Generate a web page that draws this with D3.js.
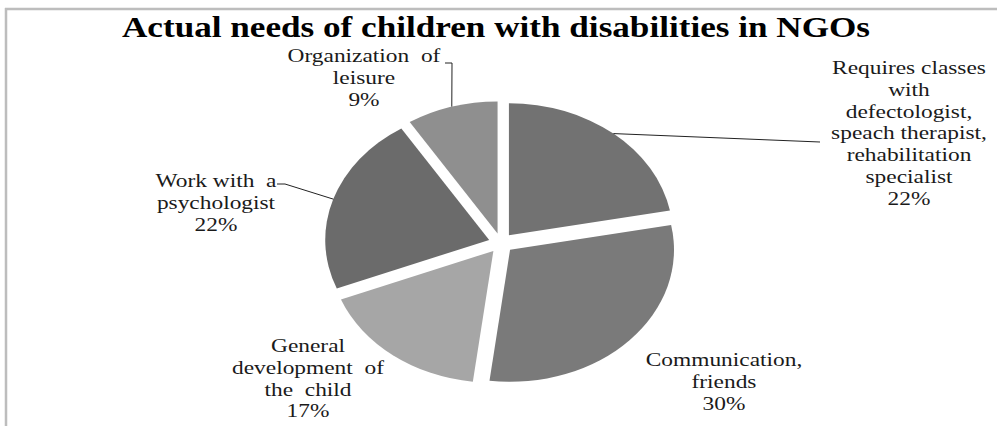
<!DOCTYPE html>
<html>
<head>
<meta charset="utf-8">
<script src="https://cdn.jsdelivr.net/npm/d3@7"></script>
<style>
  body { margin: 0; background: #fff; }
</style>
</head>
<body>
<div id="chart"></div>
<script>
// data
const categories = [
  "Requires classes\nwith\ndefectologist,\nspeach therapist,\nrehabilitation\nspecialist",
  "Communication,\nfriends",
  "General\ndevelopment  of\nthe  child",
  "Work with  a\npsychologist",
  "Organization  of\nleisure"
];
const values = [22, 30, 17, 22, 9];
const colors = ["#727272", "#7a7a7a", "#a6a6a6", "#6b6b6b", "#8f8f8f"];

// label placement (x centre, first baseline) + leader elbow, one per slice
const labelPos = [
  {x: 909, y: 74, elbow: [[820, 142]]},
  {x: 724, y: 366, elbow: null},
  {x: 308, y: 352, elbow: null},
  {x: 216, y: 187, elbow: [[285, 184], [277, 184]]},
  {x: 364, y: 62, elbow: [[452, 63], [445, 63]]}
];

const serif = "'Liberation Serif', 'Tinos', 'Nimbus Roman', 'Nimbus Roman No9 L', 'FreeSerif', 'Noto Serif', 'DejaVu Serif', 'Times New Roman', Times, serif";
const width = 997, height = 426;
const cx = 501, cy = 243;
const R = 132;          // radius before horizontal stretch
const sx = 1.242;       // horizontal stretch of the pie
const explode = 10;
const lineH = 21.8;
const textSx = 1.3;

const svg = d3.select("#chart").append("svg")
  .attr("width", width)
  .attr("height", height);

// frame
svg.append("line").attr("x1", 5).attr("x2", width).attr("y1", 9).attr("y2", 9)
  .attr("stroke", "#bdbdbd").attr("stroke-width", 2.5);
svg.append("line").attr("x1", 6).attr("x2", 6).attr("y1", 8).attr("y2", height)
  .attr("stroke", "#bdbdbd").attr("stroke-width", 2.5);

// title
svg.append("text")
  .attr("x", 122).attr("y", 37)
  .attr("textLength", 748)
  .attr("lengthAdjust", "spacingAndGlyphs")
  .attr("font-family", serif)
  .attr("font-size", 29)
  .attr("font-weight", "bold")
  .attr("fill", "#000")
  .text("Actual needs of children with disabilities in NGOs");

const pie = d3.pie().sort(null).value(d => d)(values);
const arc = d3.arc().innerRadius(0).outerRadius(R);

const g = svg.append("g")
  .attr("transform", `translate(${cx},${cy}) scale(${sx},1)`);

g.selectAll("path").data(pie).join("path")
  .attr("d", arc)
  .attr("fill", (d, i) => colors[i])
  .attr("transform", d => {
    const a = (d.startAngle + d.endAngle) / 2;
    return `translate(${Math.sin(a) * explode},${-Math.cos(a) * explode})`;
  });

// leader lines: from the outer edge of the slice at its mid angle to the label
pie.forEach((d, i) => {
  const lp = labelPos[i];
  if (!lp.elbow) return;
  const a = (d.startAngle + d.endAngle) / 2;
  const px = cx + (Math.sin(a) * (R + explode)) * sx;
  const py = cy - Math.cos(a) * (R + explode);
  const pts = [[px, py]].concat(lp.elbow);
  svg.append("path")
    .attr("d", d3.line()(pts))
    .attr("fill", "none")
    .attr("stroke", "#222")
    .attr("stroke-width", 1);
});

// labels
pie.forEach((d, i) => {
  const lp = labelPos[i];
  const lines = categories[i].split("\n").concat([values[i] + "%"]);
  lines.forEach((ln, k) => {
    svg.append("text")
      .attr("transform", `translate(${lp.x},${lp.y + k * lineH}) scale(${textSx},1)`)
      .attr("text-anchor", "middle")
      .attr("font-family", serif)
      .attr("font-size", 18)
      .attr("fill", "#1a1a1a")
      .style("white-space", "pre")
      .text(ln);
  });
});
</script>
</body>
</html>
